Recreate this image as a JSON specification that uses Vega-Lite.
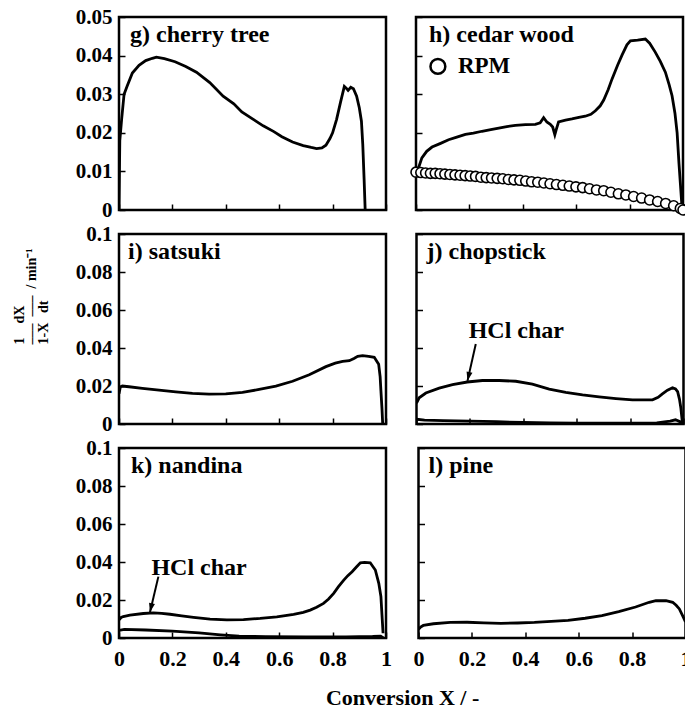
{
"$schema": "https://vega.github.io/schema/vega-lite/v6.json",
"padding": {"left": 10, "top": 4, "right": 0, "bottom": 0},
"background": "white",
"config": {
  "font": "Liberation Serif",
  "view": {"stroke": "black", "strokeWidth": 2.5},
  "axis": {"domain": false, "grid": false, "labelFont": "Liberation Serif", "labelFontWeight": "bold", "labelFontSize": 21, "labelColor": "black", "tickColor": "black", "tickWidth": 1.5, "tickSize": -6, "labelPadding": 13, "labelFlush": false, "labelOverlap": false, "titleFont": "Liberation Serif", "titleFontWeight": "bold", "titleColor": "black"},
  "axisX": {"labelFontSize": 22, "labelPadding": 16},
  "title": {"font": "Liberation Serif", "fontWeight": "bold", "fontSize": 24, "color": "black", "anchor": "start", "frame": "group"}
},
"datasets": {
  "curves": [
    {"panel":"g","series":"a","x":0,"y":0},{"panel":"g","series":"a","x":0.003,"y":0.018},{"panel":"g","series":"a","x":0.01,"y":0.0236},{"panel":"g","series":"a","x":0.019,"y":0.030},{"panel":"g","series":"a","x":0.031,"y":0.0322},{"panel":"g","series":"a","x":0.05,"y":0.0355},{"panel":"g","series":"a","x":0.075,"y":0.0375},{"panel":"g","series":"a","x":0.1,"y":0.0387},{"panel":"g","series":"a","x":0.125,"y":0.0393},{"panel":"g","series":"a","x":0.14,"y":0.0396},{"panel":"g","series":"a","x":0.17,"y":0.0392},{"panel":"g","series":"a","x":0.21,"y":0.0384},{"panel":"g","series":"a","x":0.25,"y":0.0372},{"panel":"g","series":"a","x":0.29,"y":0.0357},{"panel":"g","series":"a","x":0.34,"y":0.0330},{"panel":"g","series":"a","x":0.39,"y":0.0295},{"panel":"g","series":"a","x":0.43,"y":0.0275},{"panel":"g","series":"a","x":0.46,"y":0.0254},{"panel":"g","series":"a","x":0.5,"y":0.0236},{"panel":"g","series":"a","x":0.54,"y":0.0218},{"panel":"g","series":"a","x":0.58,"y":0.0203},{"panel":"g","series":"a","x":0.61,"y":0.0190},{"panel":"g","series":"a","x":0.65,"y":0.0176},{"panel":"g","series":"a","x":0.69,"y":0.0167},{"panel":"g","series":"a","x":0.72,"y":0.0162},{"panel":"g","series":"a","x":0.74,"y":0.0159},{"panel":"g","series":"a","x":0.76,"y":0.0161},{"panel":"g","series":"a","x":0.775,"y":0.0168},{"panel":"g","series":"a","x":0.79,"y":0.0185},{"panel":"g","series":"a","x":0.8,"y":0.0200},{"panel":"g","series":"a","x":0.815,"y":0.0235},{"panel":"g","series":"a","x":0.83,"y":0.0280},{"panel":"g","series":"a","x":0.844,"y":0.0320},{"panel":"g","series":"a","x":0.852,"y":0.0315},{"panel":"g","series":"a","x":0.858,"y":0.0310},{"panel":"g","series":"a","x":0.868,"y":0.0318},{"panel":"g","series":"a","x":0.878,"y":0.0314},{"panel":"g","series":"a","x":0.89,"y":0.0295},{"panel":"g","series":"a","x":0.9,"y":0.0265},{"panel":"g","series":"a","x":0.908,"y":0.0230},{"panel":"g","series":"a","x":0.913,"y":0.0170},{"panel":"g","series":"a","x":0.918,"y":0.008},{"panel":"g","series":"a","x":0.922,"y":0},
    {"panel":"h","series":"a","x":0,"y":0.0095},{"panel":"h","series":"a","x":0.01,"y":0.011},{"panel":"h","series":"a","x":0.022,"y":0.0135},{"panel":"h","series":"a","x":0.04,"y":0.0152},{"panel":"h","series":"a","x":0.06,"y":0.0163},{"panel":"h","series":"a","x":0.09,"y":0.0172},{"panel":"h","series":"a","x":0.122,"y":0.0182},{"panel":"h","series":"a","x":0.15,"y":0.0188},{"panel":"h","series":"a","x":0.185,"y":0.0196},{"panel":"h","series":"a","x":0.215,"y":0.0199},{"panel":"h","series":"a","x":0.247,"y":0.0204},{"panel":"h","series":"a","x":0.28,"y":0.0208},{"panel":"h","series":"a","x":0.31,"y":0.0212},{"panel":"h","series":"a","x":0.34,"y":0.0216},{"panel":"h","series":"a","x":0.372,"y":0.0219},{"panel":"h","series":"a","x":0.41,"y":0.0221},{"panel":"h","series":"a","x":0.447,"y":0.0222},{"panel":"h","series":"a","x":0.465,"y":0.0226},{"panel":"h","series":"a","x":0.478,"y":0.0239},{"panel":"h","series":"a","x":0.49,"y":0.0228},{"panel":"h","series":"a","x":0.503,"y":0.0222},{"panel":"h","series":"a","x":0.512,"y":0.0215},{"panel":"h","series":"a","x":0.52,"y":0.0195},{"panel":"h","series":"a","x":0.526,"y":0.0210},{"panel":"h","series":"a","x":0.534,"y":0.0228},{"panel":"h","series":"a","x":0.56,"y":0.0233},{"panel":"h","series":"a","x":0.584,"y":0.0236},{"panel":"h","series":"a","x":0.61,"y":0.024},{"panel":"h","series":"a","x":0.634,"y":0.0243},{"panel":"h","series":"a","x":0.655,"y":0.0248},{"panel":"h","series":"a","x":0.672,"y":0.0257},{"panel":"h","series":"a","x":0.69,"y":0.0270},{"panel":"h","series":"a","x":0.703,"y":0.0285},{"panel":"h","series":"a","x":0.72,"y":0.0312},{"panel":"h","series":"a","x":0.734,"y":0.0339},{"panel":"h","series":"a","x":0.755,"y":0.0375},{"panel":"h","series":"a","x":0.772,"y":0.0402},{"panel":"h","series":"a","x":0.79,"y":0.0428},{"panel":"h","series":"a","x":0.803,"y":0.0438},{"panel":"h","series":"a","x":0.83,"y":0.0440},{"panel":"h","series":"a","x":0.859,"y":0.0443},{"panel":"h","series":"a","x":0.875,"y":0.0432},{"panel":"h","series":"a","x":0.896,"y":0.0409},{"panel":"h","series":"a","x":0.915,"y":0.0385},{"panel":"h","series":"a","x":0.934,"y":0.0357},{"panel":"h","series":"a","x":0.948,"y":0.0325},{"panel":"h","series":"a","x":0.959,"y":0.0296},{"panel":"h","series":"a","x":0.97,"y":0.025},{"panel":"h","series":"a","x":0.978,"y":0.0200},{"panel":"h","series":"a","x":0.985,"y":0.012},{"panel":"h","series":"a","x":0.99,"y":0.007},{"panel":"h","series":"a","x":0.996,"y":0.001},
    {"panel":"i","series":"a","x":0,"y":0.016},{"panel":"i","series":"a","x":0.005,"y":0.0195},{"panel":"i","series":"a","x":0.0125,"y":0.0200},{"panel":"i","series":"a","x":0.0375,"y":0.0196},{"panel":"i","series":"a","x":0.0875,"y":0.0188},{"panel":"i","series":"a","x":0.15,"y":0.0178},{"panel":"i","series":"a","x":0.2125,"y":0.0169},{"panel":"i","series":"a","x":0.275,"y":0.0161},{"panel":"i","series":"a","x":0.3375,"y":0.0157},{"panel":"i","series":"a","x":0.4,"y":0.0159},{"panel":"i","series":"a","x":0.4625,"y":0.0167},{"panel":"i","series":"a","x":0.525,"y":0.0182},{"panel":"i","series":"a","x":0.5875,"y":0.0199},{"panel":"i","series":"a","x":0.65,"y":0.0225},{"panel":"i","series":"a","x":0.7125,"y":0.0259},{"panel":"i","series":"a","x":0.775,"y":0.0302},{"panel":"i","series":"a","x":0.81,"y":0.0320},{"panel":"i","series":"a","x":0.8375,"y":0.0330},{"panel":"i","series":"a","x":0.8625,"y":0.0333},{"panel":"i","series":"a","x":0.88,"y":0.0345},{"panel":"i","series":"a","x":0.894,"y":0.0356},{"panel":"i","series":"a","x":0.9125,"y":0.0360},{"panel":"i","series":"a","x":0.935,"y":0.0356},{"panel":"i","series":"a","x":0.956,"y":0.0351},{"panel":"i","series":"a","x":0.9725,"y":0.0315},{"panel":"i","series":"a","x":0.978,"y":0.025},{"panel":"i","series":"a","x":0.981,"y":0.0174},{"panel":"i","series":"a","x":0.985,"y":0.008},{"panel":"i","series":"a","x":0.9875,"y":0.0005},
    {"panel":"j","series":"a","x":0,"y":0.011},{"panel":"j","series":"a","x":0.01,"y":0.0138},{"panel":"j","series":"a","x":0.035,"y":0.0163},{"panel":"j","series":"a","x":0.085,"y":0.0189},{"panel":"j","series":"a","x":0.135,"y":0.0207},{"panel":"j","series":"a","x":0.19,"y":0.0221},{"panel":"j","series":"a","x":0.247,"y":0.0229},{"panel":"j","series":"a","x":0.31,"y":0.0229},{"panel":"j","series":"a","x":0.372,"y":0.0225},{"panel":"j","series":"a","x":0.434,"y":0.0210},{"panel":"j","series":"a","x":0.497,"y":0.0184},{"panel":"j","series":"a","x":0.559,"y":0.0166},{"panel":"j","series":"a","x":0.622,"y":0.0153},{"panel":"j","series":"a","x":0.684,"y":0.0143},{"panel":"j","series":"a","x":0.747,"y":0.0134},{"panel":"j","series":"a","x":0.809,"y":0.0127},{"panel":"j","series":"a","x":0.884,"y":0.0127},{"panel":"j","series":"a","x":0.905,"y":0.0140},{"panel":"j","series":"a","x":0.921,"y":0.0158},{"panel":"j","series":"a","x":0.94,"y":0.0178},{"panel":"j","series":"a","x":0.959,"y":0.0191},{"panel":"j","series":"a","x":0.97,"y":0.0185},{"panel":"j","series":"a","x":0.978,"y":0.0170},{"panel":"j","series":"a","x":0.985,"y":0.0130},{"panel":"j","series":"a","x":0.99,"y":0.0085},{"panel":"j","series":"a","x":0.996,"y":0.0005},
    {"panel":"j","series":"b","x":0,"y":0.0025},{"panel":"j","series":"b","x":0.03,"y":0.002},{"panel":"j","series":"b","x":0.1,"y":0.0018},{"panel":"j","series":"b","x":0.2,"y":0.0015},{"panel":"j","series":"b","x":0.3,"y":0.0012},{"panel":"j","series":"b","x":0.4,"y":0.0008},{"panel":"j","series":"b","x":0.5,"y":0.0006},{"panel":"j","series":"b","x":0.6,"y":0.0005},{"panel":"j","series":"b","x":0.7,"y":0.0005},{"panel":"j","series":"b","x":0.8,"y":0.0005},{"panel":"j","series":"b","x":0.9,"y":0.0006},{"panel":"j","series":"b","x":0.95,"y":0.0015},{"panel":"j","series":"b","x":0.97,"y":0.0022},{"panel":"j","series":"b","x":0.99,"y":0.001},{"panel":"j","series":"b","x":1.0,"y":0},
    {"panel":"k","series":"a","x":0,"y":0.0095},{"panel":"k","series":"a","x":0.008,"y":0.0108},{"panel":"k","series":"a","x":0.016,"y":0.0113},{"panel":"k","series":"a","x":0.041,"y":0.0121},{"panel":"k","series":"a","x":0.091,"y":0.0129},{"panel":"k","series":"a","x":0.129,"y":0.0132},{"panel":"k","series":"a","x":0.16,"y":0.0130},{"panel":"k","series":"a","x":0.191,"y":0.0125},{"panel":"k","series":"a","x":0.235,"y":0.0117},{"panel":"k","series":"a","x":0.279,"y":0.0109},{"panel":"k","series":"a","x":0.341,"y":0.0099},{"panel":"k","series":"a","x":0.404,"y":0.0095},{"panel":"k","series":"a","x":0.466,"y":0.0097},{"panel":"k","series":"a","x":0.529,"y":0.0103},{"panel":"k","series":"a","x":0.591,"y":0.0111},{"panel":"k","series":"a","x":0.654,"y":0.0124},{"panel":"k","series":"a","x":0.69,"y":0.0135},{"panel":"k","series":"a","x":0.716,"y":0.0147},{"panel":"k","series":"a","x":0.74,"y":0.0162},{"panel":"k","series":"a","x":0.766,"y":0.0182},{"panel":"k","series":"a","x":0.785,"y":0.0205},{"panel":"k","series":"a","x":0.804,"y":0.0235},{"panel":"k","series":"a","x":0.822,"y":0.0270},{"panel":"k","series":"a","x":0.841,"y":0.0303},{"panel":"k","series":"a","x":0.857,"y":0.0328},{"panel":"k","series":"a","x":0.873,"y":0.0349},{"panel":"k","series":"a","x":0.89,"y":0.0375},{"panel":"k","series":"a","x":0.904,"y":0.0396},{"panel":"k","series":"a","x":0.92,"y":0.0398},{"panel":"k","series":"a","x":0.941,"y":0.0396},{"panel":"k","series":"a","x":0.96,"y":0.0358},{"panel":"k","series":"a","x":0.973,"y":0.0288},{"panel":"k","series":"a","x":0.981,"y":0.0218},{"panel":"k","series":"a","x":0.985,"y":0.012},{"panel":"k","series":"a","x":0.989,"y":0.0025},
    {"panel":"k","series":"b","x":0,"y":0.004},{"panel":"k","series":"b","x":0.02,"y":0.0045},{"panel":"k","series":"b","x":0.1,"y":0.0042},{"panel":"k","series":"b","x":0.2,"y":0.0036},{"panel":"k","series":"b","x":0.3,"y":0.0027},{"panel":"k","series":"b","x":0.38,"y":0.0017},{"panel":"k","series":"b","x":0.45,"y":0.0010},{"panel":"k","series":"b","x":0.55,"y":0.0007},{"panel":"k","series":"b","x":0.7,"y":0.0006},{"panel":"k","series":"b","x":0.85,"y":0.0006},{"panel":"k","series":"b","x":0.95,"y":0.0008},{"panel":"k","series":"b","x":0.98,"y":0.0010},{"panel":"k","series":"b","x":0.99,"y":0},
    {"panel":"l","series":"a","x":0,"y":0.0045},{"panel":"l","series":"a","x":0.008,"y":0.0058},{"panel":"l","series":"a","x":0.018,"y":0.0066},{"panel":"l","series":"a","x":0.056,"y":0.0075},{"panel":"l","series":"a","x":0.119,"y":0.0082},{"panel":"l","series":"a","x":0.182,"y":0.0083},{"panel":"l","series":"a","x":0.245,"y":0.0080},{"panel":"l","series":"a","x":0.308,"y":0.0077},{"panel":"l","series":"a","x":0.371,"y":0.0079},{"panel":"l","series":"a","x":0.434,"y":0.0082},{"panel":"l","series":"a","x":0.497,"y":0.0087},{"panel":"l","series":"a","x":0.56,"y":0.0093},{"panel":"l","series":"a","x":0.624,"y":0.0104},{"panel":"l","series":"a","x":0.687,"y":0.0118},{"panel":"l","series":"a","x":0.75,"y":0.0139},{"panel":"l","series":"a","x":0.813,"y":0.0163},{"panel":"l","series":"a","x":0.864,"y":0.0188},{"panel":"l","series":"a","x":0.889,"y":0.0197},{"panel":"l","series":"a","x":0.91,"y":0.0196},{"panel":"l","series":"a","x":0.927,"y":0.0197},{"panel":"l","series":"a","x":0.952,"y":0.0188},{"panel":"l","series":"a","x":0.965,"y":0.0172},{"panel":"l","series":"a","x":0.977,"y":0.0153},{"panel":"l","series":"a","x":0.99,"y":0.0115},{"panel":"l","series":"a","x":1.0,"y":0.0085}
  ],
  "rpm": [
    {"series":"RPM","x":0,"y":0.0098},{"series":"RPM","x":0.018,"y":0.0097},{"series":"RPM","x":0.036,"y":0.0096},{"series":"RPM","x":0.054,"y":0.0095},{"series":"RPM","x":0.072,"y":0.0095},{"series":"RPM","x":0.09,"y":0.0094},{"series":"RPM","x":0.108,"y":0.0093},{"series":"RPM","x":0.127,"y":0.0092},{"series":"RPM","x":0.146,"y":0.0091},{"series":"RPM","x":0.165,"y":0.0090},{"series":"RPM","x":0.184,"y":0.0089},{"series":"RPM","x":0.203,"y":0.0088},{"series":"RPM","x":0.223,"y":0.0087},{"series":"RPM","x":0.243,"y":0.0085},{"series":"RPM","x":0.263,"y":0.0084},{"series":"RPM","x":0.283,"y":0.0083},{"series":"RPM","x":0.304,"y":0.0082},{"series":"RPM","x":0.325,"y":0.0081},{"series":"RPM","x":0.346,"y":0.0079},{"series":"RPM","x":0.367,"y":0.0078},{"series":"RPM","x":0.389,"y":0.0077},{"series":"RPM","x":0.411,"y":0.0075},{"series":"RPM","x":0.433,"y":0.0073},{"series":"RPM","x":0.456,"y":0.0072},{"series":"RPM","x":0.479,"y":0.0070},{"series":"RPM","x":0.502,"y":0.0068},{"series":"RPM","x":0.526,"y":0.0066},{"series":"RPM","x":0.55,"y":0.0064},{"series":"RPM","x":0.574,"y":0.0062},{"series":"RPM","x":0.599,"y":0.0060},{"series":"RPM","x":0.624,"y":0.0058},{"series":"RPM","x":0.65,"y":0.0055},{"series":"RPM","x":0.676,"y":0.0052},{"series":"RPM","x":0.703,"y":0.0050},{"series":"RPM","x":0.73,"y":0.0046},{"series":"RPM","x":0.758,"y":0.0042},{"series":"RPM","x":0.786,"y":0.0039},{"series":"RPM","x":0.815,"y":0.0035},{"series":"RPM","x":0.845,"y":0.0031},{"series":"RPM","x":0.875,"y":0.0026},{"series":"RPM","x":0.905,"y":0.0022},{"series":"RPM","x":0.935,"y":0.0017},{"series":"RPM","x":0.965,"y":0.0011},{"series":"RPM","x":0.99,"y":0.0004},{"series":"RPM","x":1.0,"y":0}
  ],
  "keys": [
    {"panel":"h","label":"RPM","x":0.082,"y":0.0372}
  ],
  "notes": [
    {"panel":"j","label":"HCl char","x":0.374,"y":0.049},
    {"panel":"k","label":"HCl char","x":0.30,"y":0.0367}
  ],
  "arrows": [
    {"panel":"j","x0":0.222,"y0":0.0421,"x1":0.191,"y1":0.0227},
    {"panel":"k","x0":0.1475,"y0":0.0323,"x1":0.116,"y1":0.0136}
  ]
},
"title": {"text": "Conversion X / -", "orient": "bottom", "anchor": "middle", "frame": "bounds", "dx": 51, "fontSize": 22, "offset": 18},
"spacing": -1,
"vconcat": [
  {"spacing": 18, "hconcat": [
    {"width": 267, "height": 193,
     "title": {"text": "g) cherry tree", "offset": -41, "dx": 11},
     "data": {"name": "curves"}, "transform": [{"filter": "datum.panel == 'g'"}],
     "mark": {"type": "line", "color": "black", "strokeWidth": 2.8, "clip": true},
     "encoding": {
       "x": {"field": "x", "type": "quantitative", "scale": {"domain": [0, 1], "nice": false}, "axis": {"values": [0, 0.2, 0.4, 0.6, 0.8, 1], "labels": false, "title": null}},
       "y": {"field": "y", "type": "quantitative", "scale": {"domain": [0, 0.05], "nice": false}, "axis": {"values": [0, 0.01, 0.02, 0.03, 0.04, 0.05], "format": "~g", "labelOverlap": false, "title": null}},
       "detail": {"field": "series"}
     }},
    {"width": 267, "height": 193,
     "title": {"text": "h) cedar wood", "offset": -31, "dx": 13},
     "layer": [
       {"data": {"name": "curves"}, "transform": [{"filter": "datum.panel == 'h'"}],
        "mark": {"type": "line", "color": "black", "strokeWidth": 2.8, "clip": true},
        "encoding": {
          "x": {"field": "x", "type": "quantitative", "title": null, "scale": {"domain": [0, 1], "nice": false}, "axis": {"values": [0, 0.2, 0.4, 0.6, 0.8, 1], "labels": false, "title": null}},
          "y": {"field": "y", "type": "quantitative", "title": null, "scale": {"domain": [0, 0.05], "nice": false}, "axis": {"values": [0, 0.01, 0.02, 0.03, 0.04, 0.05], "labels": false, "title": null}},
          "detail": {"field": "series"}
        }},
       {"data": {"name": "rpm"},
        "mark": {"type": "point", "shape": "circle", "filled": true, "fill": "white", "stroke": "black", "strokeWidth": 1.6, "size": 100, "opacity": 1},
        "encoding": {
          "x": {"field": "x", "type": "quantitative", "title": null, "axis": {"values": [0, 0.2, 0.4, 0.6, 0.8, 1], "labels": false, "title": null}},
          "y": {"field": "y", "type": "quantitative", "title": null, "axis": {"values": [0, 0.01, 0.02, 0.03, 0.04, 0.05], "labels": false, "title": null}},
          "detail": {"field": "series"}
        }},
       {"data": {"name": "keys"},
        "mark": {"type": "point", "shape": "circle", "filled": true, "fill": "white", "stroke": "black", "strokeWidth": 2.5, "size": 220, "opacity": 1},
        "encoding": {
          "x": {"field": "x", "type": "quantitative", "title": null, "axis": {"values": [0, 0.2, 0.4, 0.6, 0.8, 1], "labels": false, "title": null}},
          "y": {"field": "y", "type": "quantitative", "title": null, "axis": {"values": [0, 0.01, 0.02, 0.03, 0.04, 0.05], "labels": false, "title": null}}
        }},
       {"data": {"name": "keys"},
        "mark": {"type": "text", "font": "Liberation Serif", "fontWeight": "bold", "fontSize": 23, "color": "black", "align": "left", "baseline": "middle", "dx": 20},
        "encoding": {
          "x": {"field": "x", "type": "quantitative", "title": null, "axis": {"values": [0, 0.2, 0.4, 0.6, 0.8, 1], "labels": false, "title": null}},
          "y": {"field": "y", "type": "quantitative", "title": null, "axis": {"values": [0, 0.01, 0.02, 0.03, 0.04, 0.05], "labels": false, "title": null}},
          "text": {"field": "label"}
        }}
     ]}
  ]},
  {"spacing": 26.5, "hconcat": [
    {"width": 267, "height": 190,
     "title": {"text": "i) satsuki", "offset": -41, "dx": 9},
     "data": {"name": "curves"}, "transform": [{"filter": "datum.panel == 'i'"}],
     "mark": {"type": "line", "color": "black", "strokeWidth": 2.8, "clip": true},
     "encoding": {
       "x": {"field": "x", "type": "quantitative", "scale": {"domain": [0, 1], "nice": false}, "axis": {"values": [0, 0.2, 0.4, 0.6, 0.8, 1], "labels": false, "title": null}},
       "y": {"field": "y", "type": "quantitative", "scale": {"domain": [0, 0.1], "nice": false}, "axis": {"values": [0, 0.02, 0.04, 0.06, 0.08, 0.1], "format": "~g", "labelOverlap": false,
         "title": ["\u20021\u2002\u2002dX", "\u2013\u2013\u2013\u2002\u2013\u2013\u2013\u2002/ min\u207b\u00b9", "1-X\u2002\u2009dt"],
         "titleFontSize": 14, "titleLineHeight": 12, "titleAngle": -90, "titleAlign": "left", "titleBaseline": "middle", "titleX": -100, "titleY": 110}},
       "detail": {"field": "series"}
     }},
    {"width": 267, "height": 190,
     "title": {"text": "j) chopstick", "offset": -31, "dx": 10},
     "layer": [
       {"data": {"name": "curves"}, "transform": [{"filter": "datum.panel == 'j'"}],
        "mark": {"type": "line", "color": "black", "strokeWidth": 2.8, "clip": true},
        "encoding": {
          "x": {"field": "x", "type": "quantitative", "title": null, "scale": {"domain": [0, 1], "nice": false}, "axis": {"values": [0, 0.2, 0.4, 0.6, 0.8, 1], "labels": false, "title": null}},
          "y": {"field": "y", "type": "quantitative", "title": null, "scale": {"domain": [0, 0.1], "nice": false}, "axis": {"values": [0, 0.02, 0.04, 0.06, 0.08, 0.1], "labels": false, "title": null}},
          "detail": {"field": "series"}
        }},
       {"data": {"name": "notes"}, "transform": [{"filter": "datum.panel == 'j'"}],
        "mark": {"type": "text", "font": "Liberation Serif", "fontWeight": "bold", "fontSize": 24, "color": "black", "align": "center", "baseline": "middle"},
        "encoding": {
          "x": {"field": "x", "type": "quantitative", "title": null, "axis": {"values": [0, 0.2, 0.4, 0.6, 0.8, 1], "labels": false, "title": null}},
          "y": {"field": "y", "type": "quantitative", "title": null, "axis": {"values": [0, 0.02, 0.04, 0.06, 0.08, 0.1], "labels": false, "title": null}},
          "text": {"field": "label"}}},
       {"data": {"name": "arrows"}, "transform": [{"filter": "datum.panel == 'j'"}],
        "mark": {"type": "rule", "color": "black", "strokeWidth": 2},
        "encoding": {
          "x": {"field": "x0", "type": "quantitative", "title": null, "axis": {"values": [0, 0.2, 0.4, 0.6, 0.8, 1], "labels": false, "title": null}},
          "y": {"field": "y0", "type": "quantitative", "title": null, "axis": {"values": [0, 0.02, 0.04, 0.06, 0.08, 0.1], "labels": false, "title": null}},
          "x2": {"field": "x1"}, "y2": {"field": "y1"}}},
       {"data": {"name": "arrows"}, "transform": [{"filter": "datum.panel == 'j'"}],
        "mark": {"type": "point", "shape": "M0,0L-0.6,-1.8L0.6,-1.8Z", "filled": true, "color": "black", "opacity": 1, "size": 100, "angle": 13},
        "encoding": {
          "x": {"field": "x1", "type": "quantitative", "title": null, "axis": {"values": [0, 0.2, 0.4, 0.6, 0.8, 1], "labels": false, "title": null}},
          "y": {"field": "y1", "type": "quantitative", "title": null, "axis": {"values": [0, 0.02, 0.04, 0.06, 0.08, 0.1], "labels": false, "title": null}}}}
     ]}
  ]},
  {"spacing": 18.5, "hconcat": [
    {"width": 267, "height": 190,
     "title": {"text": "k) nandina", "offset": -41, "dx": 12},
     "layer": [
       {"data": {"name": "curves"}, "transform": [{"filter": "datum.panel == 'k'"}],
        "mark": {"type": "line", "color": "black", "strokeWidth": 2.8, "clip": true},
        "encoding": {
          "x": {"field": "x", "type": "quantitative", "title": null, "scale": {"domain": [0, 1], "nice": false}, "axis": {"values": [0, 0.2, 0.4, 0.6, 0.8, 1], "format": "~g", "labelOverlap": false, "title": null}},
          "y": {"field": "y", "type": "quantitative", "title": null, "scale": {"domain": [0, 0.1], "nice": false}, "axis": {"values": [0, 0.02, 0.04, 0.06, 0.08, 0.1], "format": "~g", "labelOverlap": false, "title": null}},
          "detail": {"field": "series"}
        }},
       {"data": {"name": "notes"}, "transform": [{"filter": "datum.panel == 'k'"}],
        "mark": {"type": "text", "font": "Liberation Serif", "fontWeight": "bold", "fontSize": 24, "color": "black", "align": "center", "baseline": "middle"},
        "encoding": {
          "x": {"field": "x", "type": "quantitative", "title": null, "axis": {"values": [0, 0.2, 0.4, 0.6, 0.8, 1], "format": "~g", "labelOverlap": false, "title": null}},
          "y": {"field": "y", "type": "quantitative", "title": null, "axis": {"values": [0, 0.02, 0.04, 0.06, 0.08, 0.1], "format": "~g", "labelOverlap": false, "title": null}},
          "text": {"field": "label"}}},
       {"data": {"name": "arrows"}, "transform": [{"filter": "datum.panel == 'k'"}],
        "mark": {"type": "rule", "color": "black", "strokeWidth": 2},
        "encoding": {
          "x": {"field": "x0", "type": "quantitative", "title": null, "axis": {"values": [0, 0.2, 0.4, 0.6, 0.8, 1], "format": "~g", "labelOverlap": false, "title": null}},
          "y": {"field": "y0", "type": "quantitative", "title": null, "axis": {"values": [0, 0.02, 0.04, 0.06, 0.08, 0.1], "format": "~g", "labelOverlap": false, "title": null}},
          "x2": {"field": "x1"}, "y2": {"field": "y1"}}},
       {"data": {"name": "arrows"}, "transform": [{"filter": "datum.panel == 'k'"}],
        "mark": {"type": "point", "shape": "M0,0L-0.6,-1.8L0.6,-1.8Z", "filled": true, "color": "black", "opacity": 1, "size": 100, "angle": 13},
        "encoding": {
          "x": {"field": "x1", "type": "quantitative", "title": null, "axis": {"values": [0, 0.2, 0.4, 0.6, 0.8, 1], "format": "~g", "labelOverlap": false, "title": null}},
          "y": {"field": "y1", "type": "quantitative", "title": null, "axis": {"values": [0, 0.02, 0.04, 0.06, 0.08, 0.1], "format": "~g", "labelOverlap": false, "title": null}}}}
     ]},
    {"width": 267, "height": 190,
     "title": {"text": "l) pine", "offset": -31, "dx": 10},
     "data": {"name": "curves"}, "transform": [{"filter": "datum.panel == 'l'"}],
     "mark": {"type": "line", "color": "black", "strokeWidth": 2.8, "clip": true},
     "encoding": {
       "x": {"field": "x", "type": "quantitative", "scale": {"domain": [0, 1], "nice": false}, "axis": {"values": [0, 0.2, 0.4, 0.6, 0.8, 1], "format": "~g", "labelOverlap": false, "title": null}},
       "y": {"field": "y", "type": "quantitative", "scale": {"domain": [0, 0.1], "nice": false}, "axis": {"values": [0, 0.02, 0.04, 0.06, 0.08, 0.1], "labels": false, "title": null}},
       "detail": {"field": "series"}
     }}
  ]}
]
}
